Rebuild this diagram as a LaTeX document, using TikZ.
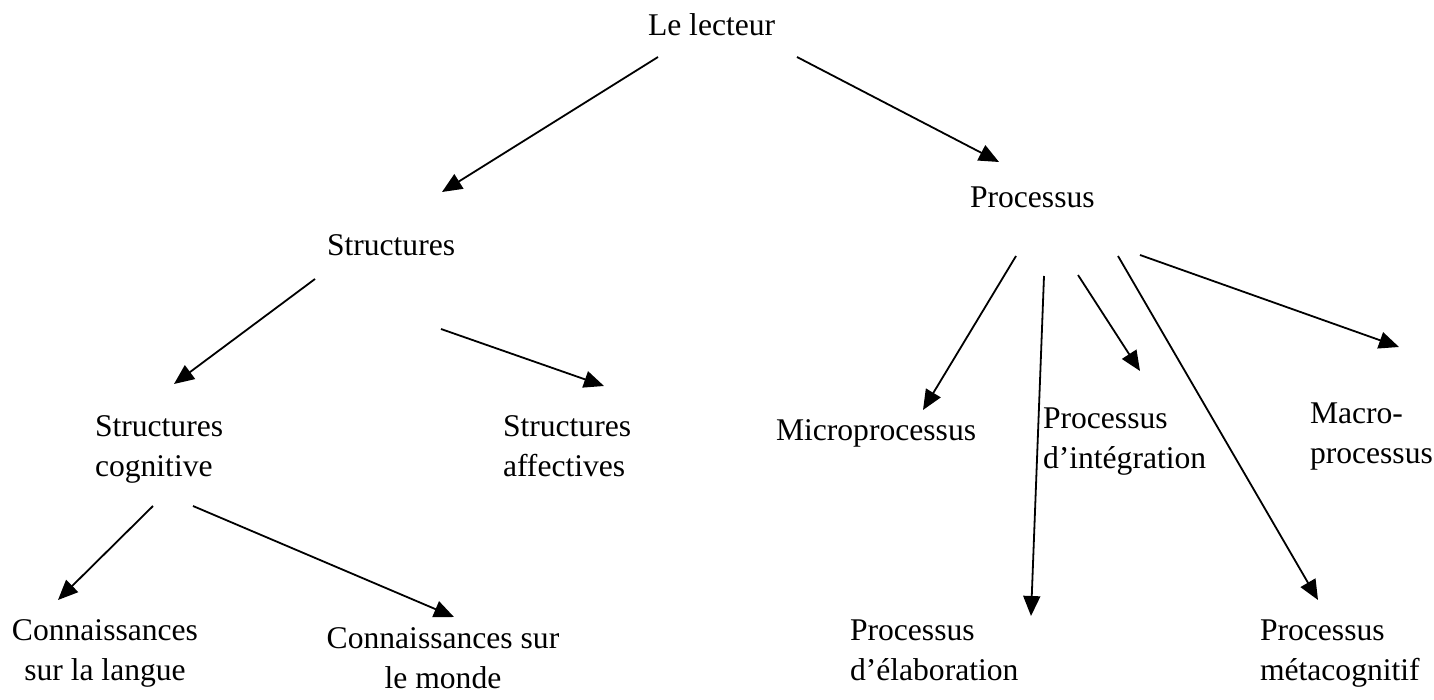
\documentclass[tikz,border=0pt]{standalone}
\usepackage{fontspec}
\setmainfont{Liberation Serif}
\usetikzlibrary{arrows.meta}
\begin{document}
\begin{tikzpicture}[x=1pt,y=-1pt,
  lbl/.style={inner sep=0pt,outer sep=0pt,font=\fontsize{31.6}{40}\selectfont},
  link/.style={line width=1.8pt,-{Triangle[length=20pt,width=17pt]}}]
\useasboundingbox (0,0) rectangle (1434,700);

% labels
\node[lbl,anchor=base west] (lecteur) at (648,36) {Le lecteur};
\node[lbl,anchor=base west] (proc) at (970,208) {Processus};
\node[lbl,anchor=base west] (struct) at (327,256) {Structures};
\node[lbl,anchor=base west] (cogn) at (95,436) {\begin{tabular}[t]{@{}l@{}}Structures\\cognitive\end{tabular}};
\node[lbl,anchor=base west] (affect) at (503,436) {\begin{tabular}[t]{@{}l@{}}Structures\\affectives\end{tabular}};
\node[lbl,anchor=base west] (micro) at (776,440) {Microprocessus};
\node[lbl,anchor=base west] (integr) at (1043,428) {\begin{tabular}[t]{@{}l@{}}Processus\\d’intégration\end{tabular}};
\node[lbl,anchor=base west] (macro) at (1310,423) {\begin{tabular}[t]{@{}l@{}}Macro-\\processus\end{tabular}};
\node[lbl,anchor=base] (langue) at (105,640) {\begin{tabular}[t]{@{}c@{}}Connaissances\\sur la langue\end{tabular}};
\node[lbl,anchor=base] (monde) at (443,648) {\begin{tabular}[t]{@{}c@{}}Connaissances sur\\le monde\end{tabular}};
\node[lbl,anchor=base west] (elab) at (850,640) {\begin{tabular}[t]{@{}l@{}}Processus\\d’élaboration\end{tabular}};
\node[lbl,anchor=base west] (meta) at (1260,640) {\begin{tabular}[t]{@{}l@{}}Processus\\métacognitif\end{tabular}};

% connector end points
\coordinate (lecteur-l) at (658,57);
\coordinate (lecteur-r) at (797,57);
\coordinate (struct-in) at (442,192);
\coordinate (proc-in) at (999,162);
\coordinate (struct-l) at (315,279);
\coordinate (struct-r) at (441,329);
\coordinate (cogn-in) at (174,384);
\coordinate (affect-in) at (604,386);
\coordinate (proc-1) at (1016,256);
\coordinate (proc-2) at (1044,276);
\coordinate (proc-3) at (1078,275);
\coordinate (proc-4) at (1118,256);
\coordinate (proc-5) at (1140,255);
\coordinate (micro-in) at (923,410);
\coordinate (elab-in) at (1031,616);
\coordinate (integr-in) at (1140,371);
\coordinate (meta-in) at (1318,600);
\coordinate (macro-in) at (1399,347);
\coordinate (cogn-l) at (153,506);
\coordinate (cogn-r) at (193,506);
\coordinate (langue-in) at (58,600);
\coordinate (monde-in) at (454,617);

% connectors
\draw[link] (lecteur-l) -- (struct-in);
\draw[link] (lecteur-r) -- (proc-in);
\draw[link] (struct-l) -- (cogn-in);
\draw[link] (struct-r) -- (affect-in);
\draw[link] (proc-1) -- (micro-in);
\draw[link] (proc-2) -- (elab-in);
\draw[link] (proc-3) -- (integr-in);
\draw[link] (proc-4) -- (meta-in);
\draw[link] (proc-5) -- (macro-in);
\draw[link] (cogn-l) -- (langue-in);
\draw[link] (cogn-r) -- (monde-in);
\end{tikzpicture}
\end{document}
